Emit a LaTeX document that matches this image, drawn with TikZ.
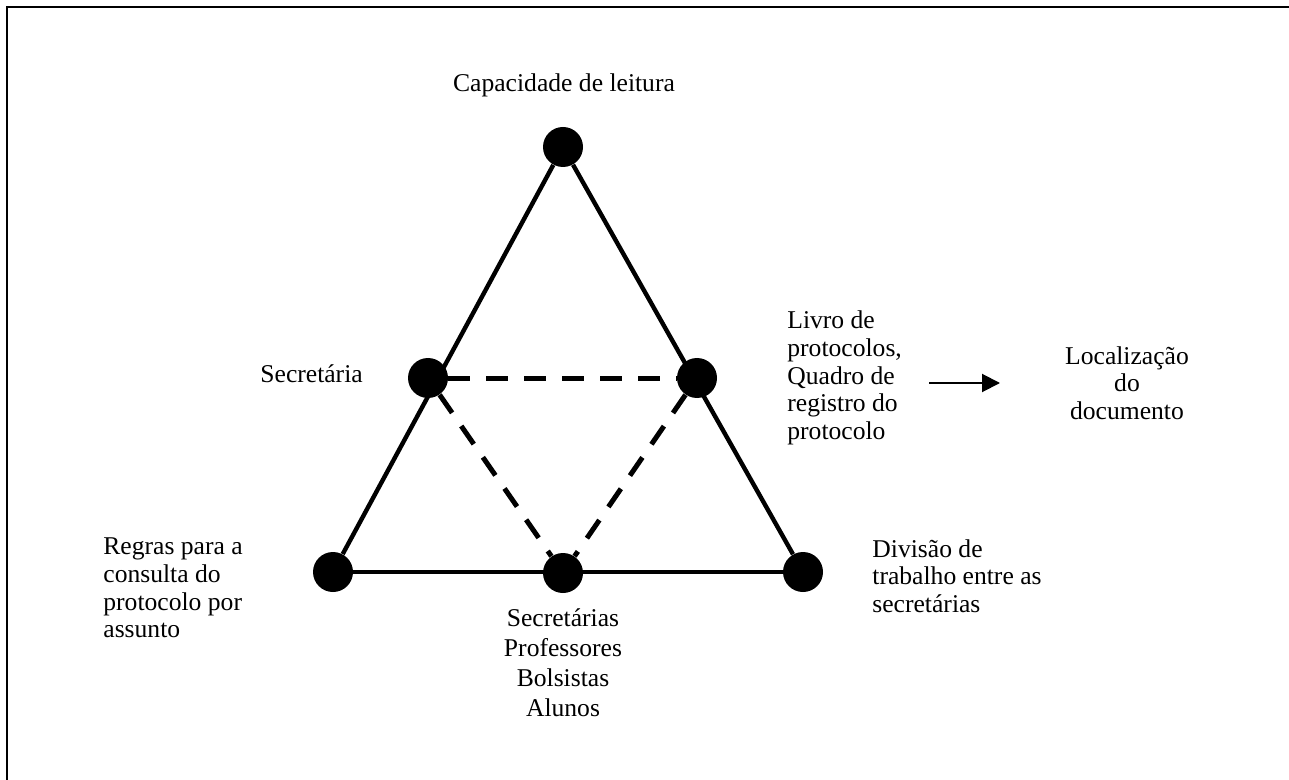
\documentclass[tikz,border=0pt]{standalone}
\usepackage{fontspec}
\setmainfont{Liberation Serif}
\usepackage{tikz}
\usetikzlibrary{arrows.meta}
\tikzstyle{dot} = [circle,fill=black,draw=none,minimum size=20pt,inner sep=0pt]
\tikzstyle{solidedge} = [line width=2.2pt]
\tikzstyle{dashededge} = [line width=2.5pt,dash pattern=on 11pt off 8pt]
\tikzstyle{arrow} = [line width=1pt,-{Triangle[length=9pt,width=9pt]}]
\tikzstyle{label} = [inner sep=0pt,font=\fontsize{12.8}{13.8}\selectfont]

\begin{document}
\begin{tikzpicture}[x=0.5pt,y=-0.5pt]
			\useasboundingbox (0,0) rectangle (1289,780);
			% Frame:
			% Only the top and left sides fall inside the page
			\draw [line width=0.85pt] (7,780) |- (1289,7);
			
			% Corners and middle points of the triangle:
			\node [dot] (top) at (563,147) {};
			\node [dot] (bl)  at (333,572) {};
			\node [dot] (br)  at (803,572) {};
			\node [dot] (ml)  at (428,378) {};
			\node [dot] (mr)  at (697,378) {};
			\node [dot] (bc)  at (563,573) {};
			
			% Outer triangle:
			\draw [solidedge] (top) -- (bl);
			\draw [solidedge] (top) -- (br);
			\draw [solidedge] (bl) -- (br);
			
			% Inner triangle:
			\draw [dashededge] (ml) -- (mr);
			\draw [dashededge] (ml) -- (bc);
			\draw [dashededge] (mr) -- (bc);
			
			% Labels:
			\node [label] (leitura) at (564,85) {Capacidade de leitura};
			\node [label,anchor=west] (secretaria) at (260,374) {Secretária};
			\node [label,anchor=west,align=left] (livro) at (787,378)
				{Livro de\\protocolos,\\Quadro de\\registro do\\protocolo};
			\node [label,align=center] (localizacao) at (1127,383)
				{Localização\\do\\documento};
			\node [label,anchor=west,align=left] (regras) at (103,588)
				{Regras para a\\consulta do\\protocolo por\\assunto};
			\node [label,anchor=west,align=left] (divisao) at (872,576)
				{Divisão de\\trabalho entre as\\secretárias};
			\node [label,align=center,font=\fontsize{12.8}{15}\selectfont] (sujeitos) at (563,663)
				{Secretárias\\Professores\\Bolsistas\\Alunos};
			
			% Arrow towards the location of the document:
			\coordinate (arrowstart) at (929,383);
			\coordinate (arrowend) at (1000,383);
			\draw [arrow] (arrowstart) -- (arrowend);
\end{tikzpicture}
\end{document}
